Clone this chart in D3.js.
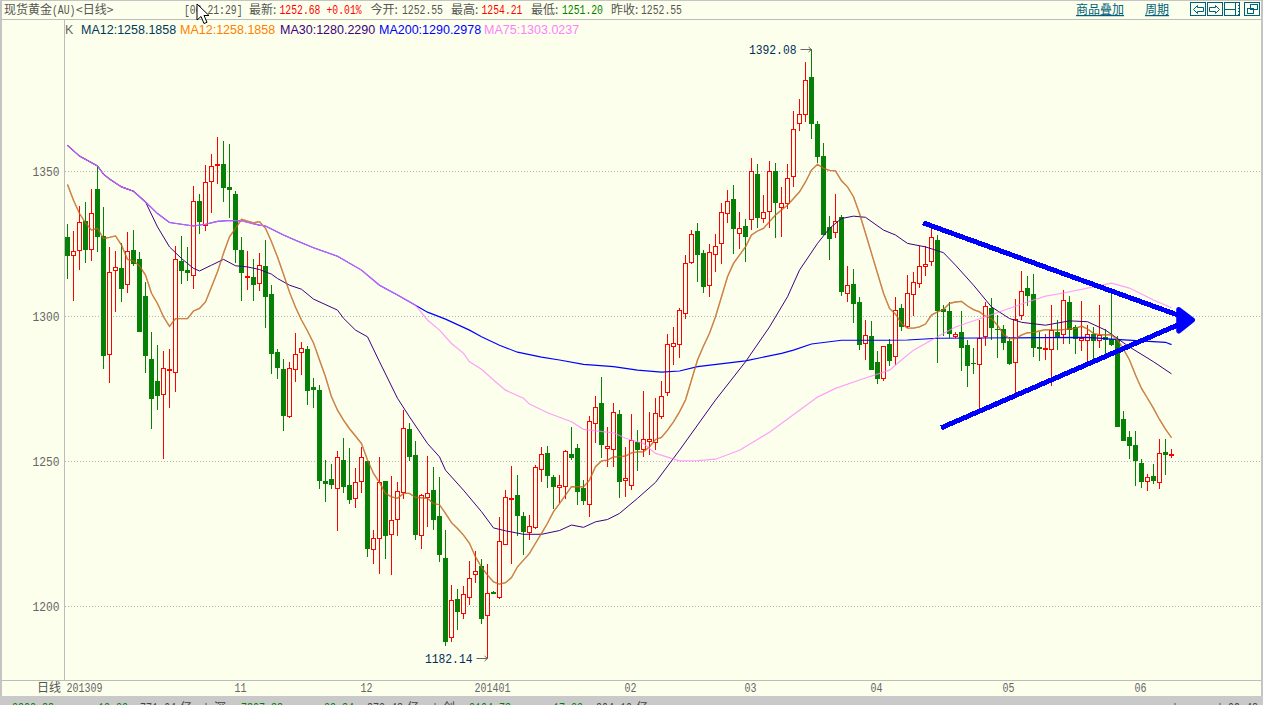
<!DOCTYPE html>
<html>
<head>
<meta charset="utf-8">
<title>现货黄金 日线</title>
<script src="https://cdnjs.cloudflare.com/ajax/libs/d3/7.8.5/d3.min.js"></script>
<style>
  html, body { margin: 0; padding: 0; background: #fcffec; overflow: hidden; }
  svg { display: block; }
</style>
</head>
<body>
<script>
// daily candles, one value per trading day
const opens = [
  1327.4,1321.3,1323.0,1332.9,1323.4,1344.0,1327.7,1287.2,1315.9,1316.7,
  1311.3,1322.9,1319.8,1307.1,1285.3,1277.7,1273.4,1281.4,1281.0,1319.1,
  1316.0,1314.4,1339.8,1331.4,1346.8,1352.1,1352.6,1344.6,1342.2,1322.9,
  1313.6,1313.6,1311.5,1317.4,1307.8,1287.7,1281.9,1265.6,1282.0,1287.8,
  1288.7,1275.6,1274.6,1243.2,1243.9,1240.7,1250.5,1241.9,1237.5,1243.3,
  1250.1,1220.0,1223.7,1243.2,1225.1,1230.2,1239.6,1261.2,1252.2,1224.8,
  1237.6,1240.1,1231.2,1216.7,1189.6,1202.5,1197.8,1203.3,1211.3,1213.9,
  1197.1,1205.0,1203.4,1221.7,1237.0,1238.4,1231.2,1225.6,1227.3,1247.5,
  1252.9,1244.7,1241.2,1241.7,1252.6,1254.7,1240.9,1235.5,1263.4,1270.2,
  1254.7,1254.4,1266.4,1243.7,1242.0,1256.7,1254.4,1257.1,1256.8,1265.6,
  1273.8,1289.9,1290.4,1301.3,1318.9,1329.4,1321.9,1310.9,1321.6,1325.4,
  1335.8,1340.5,1328.9,1331.2,1333.7,1349.3,1334.0,1336.4,1350.1,1337.9,
  1339.2,1348.5,1366.6,1369.7,1382.5,1366.3,1355.3,1330.8,1329.2,1334.3,
  1308.2,1311.2,1305.0,1290.9,1293.2,1284.3,1278.9,1290.5,1286.5,1302.9,
  1296.8,1307.7,1311.6,1317.5,1319.2,1326.4,1302.6,1301.9,1293.4,1294.6,
  1290.1,1283.9,1283.7,1293.4,1302.9,1295.7,1295.7,1291.5,1284.4,1300.4,
  1309.8,1307.8,1289.5,1288.8,1288.9,1294.7,1293.8,1305.0,1296.4,1291.9,
  1292.0,1294.0,1291.8,1292.8,1292.3,1291.9,1264.7,1258.5,1255.7,1249.5,
  1243.4,1245.0,1243.1,1253.3,1252.55
];
const closes = [
  1320.9,1322.5,1332.5,1322.9,1335.6,1327.4,1286.4,1315.2,1316.9,1309.5,
  1322.5,1318.1,1294.6,1286.4,1271.5,1272.6,1282.1,1281.9,1320.0,1315.7,
  1315.0,1340.0,1332.6,1346.3,1351.8,1352.5,1344.3,1343.6,1322.9,1315.0,
  1314.0,1310.9,1317.7,1306.7,1287.1,1282.2,1265.6,1282.4,1286.9,1289.0,
  1274.3,1274.6,1243.2,1242.2,1241.9,1251.7,1241.2,1236.7,1243.1,1251.4,
  1219.8,1223.5,1243.1,1224.3,1229.7,1239.7,1261.4,1251.5,1224.6,1238.3,
  1239.3,1229.8,1217.7,1187.7,1202.4,1198.1,1204.2,1210.0,1212.4,1195.6,
  1204.8,1204.3,1222.5,1237.6,1237.3,1231.2,1225.7,1227.6,1248.0,1252.5,
  1245.0,1241.2,1241.8,1253.5,1251.2,1239.5,1236.4,1263.9,1268.7,1255.7,
  1255.3,1267.0,1242.9,1244.3,1257.3,1254.0,1257.6,1257.8,1266.6,1272.5,
  1290.4,1290.7,1302.1,1318.3,1328.3,1321.2,1310.1,1322.4,1324.2,1335.9,
  1340.0,1330.1,1330.4,1327.4,1350.0,1333.9,1336.2,1350.0,1339.1,1339.0,
  1347.9,1364.5,1369.7,1381.4,1366.3,1355.0,1328.1,1326.7,1333.1,1308.4,
  1310.7,1304.3,1290.1,1293.5,1281.5,1278.4,1289.7,1284.6,1302.4,1296.4,
  1308.0,1311.8,1317.3,1318.1,1327.3,1301.9,1301.5,1293.9,1293.9,1289.1,
  1282.9,1283.7,1292.7,1303.5,1296.0,1295.3,1290.8,1283.6,1299.3,1308.7,
  1307.1,1289.2,1288.8,1289.2,1295.4,1292.8,1305.6,1295.4,1292.3,1292.7,
  1293.9,1291.6,1293.5,1291.9,1290.2,1261.9,1257.1,1255.4,1250.2,1242.9,
  1244.6,1243.3,1252.8,1252.3,1252.68
];
const highs = [
  1331.9,1329.5,1338.1,1339.5,1343.8,1351.9,1337.7,1324.0,1322.6,1325.3,
  1329.1,1329.8,1322.2,1311.9,1294.6,1290.2,1288.1,1288.8,1324.2,1327.7,
  1324.0,1345.0,1342.2,1352.2,1356.0,1361.9,1360.5,1359.5,1343.3,1327.4,
  1322.6,1319.8,1321.9,1326.4,1310.9,1288.7,1285.3,1284.3,1294.3,1291.2,
  1289.8,1278.7,1276.3,1250.5,1249.1,1253.6,1258.1,1254.6,1247.7,1255.0,
  1250.1,1226.3,1251.5,1243.2,1245.0,1242.9,1267.7,1263.2,1257.0,1238.7,
  1251.9,1248.1,1244.6,1226.3,1207.4,1206.0,1207.0,1215.6,1219.1,1216.3,
  1214.6,1205.3,1230.9,1240.2,1248.4,1245.3,1232.6,1231.6,1248.8,1255.0,
  1255.3,1245.3,1245.3,1254.0,1261.9,1256.0,1243.6,1265.7,1272.6,1279.1,
  1261.9,1270.2,1267.8,1255.0,1266.4,1260.9,1274.3,1267.1,1271.9,1277.8,
  1293.9,1296.3,1302.9,1321.2,1329.8,1332.2,1322.9,1325.0,1328.4,1339.1,
  1343.6,1345.3,1336.0,1333.6,1354.6,1352.5,1341.9,1353.6,1352.9,1344.6,
  1352.5,1370.8,1375.0,1387.7,1392.08,1367.4,1359.8,1334.6,1342.2,1335.0,
  1317.4,1316.3,1306.7,1298.7,1298.4,1288.1,1289.8,1292.2,1306.7,1304.2,
  1314.3,1315.3,1324.3,1324.3,1330.5,1328.1,1303.9,1305.0,1294.6,1301.9,
  1291.9,1289.1,1298.8,1305.0,1306.4,1300.5,1297.0,1292.9,1306.2,1315.7,
  1314.0,1314.7,1294.7,1294.0,1304.0,1298.8,1309.2,1307.1,1297.1,1305.4,
  1297.1,1296.4,1304.0,1295.7,1308.1,1293.3,1267.4,1260.5,1260.5,1250.9,
  1245.7,1249.2,1257.8,1257.8,1254.21
];
const lows = [
  1312.9,1305.3,1316.0,1318.4,1319.1,1322.2,1281.9,1277.1,1301.5,1305.0,
  1308.1,1317.4,1294.6,1280.5,1261.2,1267.7,1250.9,1268.4,1274.0,1311.2,
  1312.2,1309.5,1328.4,1329.5,1335.7,1345.7,1339.5,1334.0,1318.4,1305.3,
  1309.1,1305.3,1308.8,1296.0,1280.2,1278.4,1260.5,1265.0,1277.4,1279.8,
  1269.4,1268.4,1240.5,1236.0,1240.5,1226.0,1239.1,1235.3,1233.9,1239.1,
  1217.0,1214.6,1211.2,1216.3,1210.8,1224.3,1237.0,1250.1,1222.9,1219.8,
  1227.4,1226.3,1215.3,1186.3,1187.7,1191.9,1195.6,1200.5,1208.1,1193.9,
  1182.14,1204.3,1202.6,1221.6,1214.7,1224.3,1217.8,1222.9,1226.7,1242.9,
  1240.9,1233.6,1235.7,1237.1,1250.5,1235.0,1235.0,1230.9,1256.4,1251.2,
  1248.1,1248.1,1237.4,1237.8,1240.2,1246.7,1251.6,1252.2,1254.0,1264.5,
  1272.5,1283.2,1285.6,1299.1,1318.1,1311.9,1308.1,1306.7,1315.3,1318.1,
  1332.3,1321.5,1323.2,1318.7,1329.8,1330.5,1332.2,1330.5,1327.0,1327.4,
  1337.0,1344.6,1363.9,1367.0,1361.2,1352.9,1328.1,1319.4,1327.0,1307.0,
  1305.0,1297.7,1288.4,1285.0,1281.5,1276.7,1277.7,1283.0,1283.3,1295.0,
  1295.9,1300.1,1309.8,1313.9,1317.4,1283.9,1293.3,1292.6,1292.6,1281.2,
  1275.7,1280.1,1267.7,1289.8,1291.9,1285.7,1288.4,1283.3,1273.3,1298.8,
  1303.6,1286.1,1284.7,1285.0,1276.1,1288.5,1290.5,1290.5,1287.1,1288.1,
  1284.7,1284.3,1289.2,1286.4,1289.8,1261.9,1257.1,1250.9,1241.6,1240.9,
  1239.8,1242.3,1240.5,1245.4,1251.20
];

// MA12 read at every candle
const ma12 = [
  1345.5,1340.1,1335.5,1332.3,1329.8,1330.4,1326.9,1327.3,1327.8,1324.6,
  1319.7,1319.2,1317.4,1314.3,1308.0,1304.5,1299.9,1296.6,1299.3,1299.3,
  1299.3,1301.9,1302.8,1305.0,1310.2,1315.4,1321.8,1327.5,1330.4,1333.5,
  1332.9,1332.3,1332.7,1330.4,1325.8,1320.5,1314.6,1308.4,1303.2,1298.8,
  1295.0,1290.9,1285.0,1279.2,1272.3,1267.7,1264.3,1261.3,1258.8,1256.2,
  1250.5,1245.9,1242.7,1239.0,1237.8,1237.3,1239.0,1239.0,1237.6,1237.5,
  1237.3,1235.5,1235.1,1232.1,1228.9,1226.9,1224.6,1221.8,1217.1,1213.6,
  1210.8,1208.5,1207.7,1208.2,1210.0,1213.7,1216.0,1218.3,1221.8,1225.2,
  1228.7,1232.7,1235.5,1238.4,1241.3,1241.3,1241.3,1243.6,1248.2,1250.2,
  1250.5,1251.6,1251.6,1251.9,1253.0,1253.3,1253.3,1255.1,1257.6,1258.3,
  1260.8,1263.7,1267.1,1271.2,1278.1,1285.0,1289.8,1294.2,1299.9,1306.8,
  1313.7,1318.3,1321.2,1324.0,1328.1,1329.5,1330.4,1332.7,1335.0,1336.7,
  1338.4,1340.7,1343.0,1346.4,1350.5,1352.5,1351.1,1350.4,1350.2,1346.8,
  1344.7,1341.3,1335.5,1328.7,1321.8,1314.9,1308.0,1302.8,1300.8,1297.6,
  1296.0,1296.0,1296.4,1297.4,1300.5,1301.6,1302.4,1304.5,1305.0,1305.2,
  1303.6,1302.4,1301.6,1300.1,1299.3,1297.0,1293.9,1292.4,1292.4,1293.6,
  1294.4,1294.5,1295.0,1295.5,1295.4,1295.3,1295.5,1295.7,1295.9,1296.7,
  1295.7,1294.2,1293.7,1293.7,1293.7,1291.9,1288.7,1285.0,1279.8,1275.2,
  1271.8,1268.3,1264.5,1261.2,1258.19
];

// the slower averages are smooth, read at the candles where they bend
const ma75Idx = [0,2,5,6,7,9,11,13,15,17,19,21,23,25,27,29,32,33,36,38,41,45,49,52,55,58,
  60,62,64,66,67,69,71,73,76,77,80,84,86,91,93,96,98,102,105,108,112,117,122,125,128,132,
  137,139,141,145,148,153,159,163,166,170,174,177,181,184];
const ma75Vals = [1359.0,1355.3,1351.9,1349.1,1347.4,1344.7,1343.2,1339.5,1335.5,1332.4,1331.8,1331.2,
  1331.8,1332.8,1333.1,1333.0,1331.5,1331.2,1328.1,1326.3,1323.7,1320.8,1316.0,1310.8,1307.4,1303.9,
  1298.8,1295.3,1290.7,1287.3,1284.4,1281.8,1278.1,1274.6,1271.8,1269.8,1266.8,1263.7,1261.1,1259.9,
  1258.0,1256.2,1252.8,1250.2,1250.3,1250.8,1253.9,1260.1,1267.7,1272.2,1275.2,1278.1,1281.5,1285.0,
  1288.4,1293.0,1296.4,1299.9,1304.3,1307.0,1308.1,1309.8,1311.5,1309.8,1305.7,1303.02];

// MA30 and MA200 run on top of MA75 at the start of the window
const ma30Idx = ma75Idx.slice(0, 8).concat([15,17,19,21,22,24,26,28,30,32,34,35,37,39,41,45,46,48,50,52,55,57,60,62,
  63,66,69,71,73,76,79,82,84,86,88,90,92,95,98,102,108,113,117,120,122,125,127,129,131,133,136,138,
  140,143,146,148,151,154,157,159,163,167,170,173,177,181,184]);
const ma30Vals = ma75Vals.slice(0, 8).concat([1330.9,1324.0,1320.0,1316.6,1315.7,1317.7,1319.7,1317.5,1317.1,1316.2,
  1314.6,1313.1,1310.8,1309.4,1306.0,1302.2,1299.4,1295.3,1293.0,1284.4,1271.8,1265.4,1256.2,1251.6,
  1247.0,1240.1,1232.7,1227.1,1226.1,1224.9,1224.9,1226.2,1228.1,1227.3,1229.2,1230.0,1232.1,1237.3,
  1242.8,1253.9,1271.2,1284.4,1296.4,1306.8,1316.0,1325.2,1330.4,1333.8,1334.6,1334.2,1329.8,1328.1,
  1325.2,1324.0,1322.0,1317.7,1310.8,1303.3,1299.3,1298.0,1297.0,1298.5,1298.2,1295.3,1289.5,1284.4,1280.23]);

const ma200Idx = ma75Idx.slice(0, 26).concat([60,63,67,69,72,75,79,82,86,91,95,99,102,105,113,119,121,124,129,136,
  140,145,162,170,174,183,184]);
const ma200Vals = ma75Vals.slice(0, 26).concat([1301.5,1299.1,1295.3,1293.0,1290.1,1287.7,1286.0,1285.0,1283.5,1282.7,
  1281.5,1280.8,1281.2,1282.7,1284.7,1287.3,1288.4,1290.5,1291.8,1291.8,1291.9,1292.5,1292.7,1292.8,
  1292.2,1291.1,1290.30]);

const priceTicks = [1200, 1250, 1300, 1350];
const monthIdx = [0, 28, 49, 68, 93, 113, 134, 156, 178];
const monthLabels = ['201309', '11', '12', '201401', '02', '03', '04', '05', '06'];

// hand drawn triangle on top of the chart: [candle, price]
const trendUpper = [[142.6, 1332.3], [186.4, 1299.5]];
const trendLower = [[145.6, 1261.6], [186.4, 1298.3]];
const trendHead = [[185.2, 1302.4], [187.5, 1298.8], [185.2, 1295.0]];

const w = 1263;
const h = 705;
const bg = '#fcffec';
const up = '#ff0000';
const down = '#078007';
const mono = '"Liberation Mono", "DejaVu Sans Mono", monospace';
const cjk = '"Noto Sans CJK SC", sans-serif';

// squeeze mono digits to the narrow tall look of the terminal font
const narrow = (sel, perChar) => sel.each(function () {
  this.setAttribute('textLength', this.textContent.length * perChar);
  this.setAttribute('lengthAdjust', 'spacingAndGlyphs');
});

const svg = d3.select('body').append('svg').attr('width', w).attr('height', h);

svg.append('rect').attr('width', w).attr('height', h).attr('fill', bg);

const x = d3.scaleLinear().domain([0, 184]).range([67.5, 1171.5]);
const y = d3.scaleLinear().domain([1174.66, 1401.55]).range([680, 22]);

// grid + axes
const grid = svg.append('g');
grid.selectAll('line')
  .data(priceTicks)
  .enter()
  .append('line')
  .attr('x1', 65)
  .attr('x2', 1261)
  .attr('y1', d => Math.floor(y(d)) + 0.5)
  .attr('y2', d => Math.floor(y(d)) + 0.5)
  .style('stroke', '#b4b4b4')
  .style('stroke-dasharray', '1,2');

const yAxis = svg.append('g')
  .attr('transform', 'translate(64.5,0)')
  .call(d3.axisLeft(y).tickValues(priceTicks).tickFormat(d3.format('d')).tickSize(0).tickPadding(5));
yAxis.select('.domain').remove();
yAxis.selectAll('text')
  .style('font-family', mono)
  .style('font-size', '13px')
  .style('fill', '#666')
  .call(narrow, 6.75);

const xAxis = svg.append('g')
  .attr('transform', 'translate(0,680)')
  .call(d3.axisBottom(x).tickValues(monthIdx).tickFormat((d, i) => monthLabels[i]).tickSize(0));
xAxis.select('.domain').remove();
xAxis.selectAll('text')
  .attr('text-anchor', 'start')
  .attr('dx', -1.5)
  .attr('y', 3)
  .style('font-family', mono)
  .style('font-size', '12px')
  .style('fill', '#666')
  .call(narrow, 6);

// frame
const frame = [
  [64.5, 20, 64.5, 680], [2, 19.5, 1261, 19.5], [2, 680.5, 1261, 680.5]
];
svg.append('g').selectAll('line')
  .data(frame)
  .enter()
  .append('line')
  .attr('x1', d => d[0])
  .attr('y1', d => d[1])
  .attr('x2', d => d[2])
  .attr('y2', d => d[3])
  .style('stroke', '#bcbcbc');

svg.append('rect').attr('x', 0).attr('y', 0).attr('width', 2).attr('height', h).attr('fill', '#c4c4c4');
svg.append('rect').attr('x', 1261).attr('y', 0).attr('width', 2).attr('height', h).attr('fill', '#c4c4c4');
svg.append('rect').attr('x', 0).attr('y', 0).attr('width', w).attr('height', 1).attr('fill', '#c4c4c4');

// candles
const candles = opens.map((o, i) => ({ i, open: o, close: closes[i], high: highs[i], low: lows[i] }));
const isUp = d => d.close >= d.open;

const candle = svg.append('g').attr('shape-rendering', 'crispEdges').selectAll('g')
  .data(candles)
  .enter()
  .append('g');

candle.append('line')
  .attr('x1', d => x(d.i))
  .attr('x2', d => x(d.i))
  .attr('y1', d => Math.round(y(d.high)))
  .attr('y2', d => Math.round(y(d.low)))
  .style('stroke', d => isUp(d) ? up : down);

candle.append('rect')
  .attr('x', d => isUp(d) ? x(d.i) - 2 : x(d.i) - 2.5)
  .attr('width', d => isUp(d) ? 4 : 5)
  .attr('y', d => Math.round(y(Math.max(d.open, d.close))) + (isUp(d) ? 0.5 : 0))
  .attr('height', d => Math.max(1, Math.round(y(Math.min(d.open, d.close))) - Math.round(y(Math.max(d.open, d.close)))))
  .style('fill', d => isUp(d) ? bg : down)
  .style('stroke', d => isUp(d) ? up : 'none');

// moving averages
const line = d3.line().x(d => x(d[0])).y(d => y(d[1]));
const pairs = (idx, vals) => idx.map((d, i) => [d, vals[i]]);

const maLines = [
  { pts: pairs(ma200Idx, ma200Vals), color: '#0000ff', width: 1.15, alpha: 1 },
  { pts: pairs(ma30Idx, ma30Vals), color: '#400080', width: 1, alpha: 1 },
  { pts: ma12.map((d, i) => [i, d]), color: '#003a5a', width: 1.3, alpha: 0.45 },
  { pts: ma12.map((d, i) => [i, d]), color: '#ff6a00', width: 1.3, alpha: 0.65 },
  { pts: pairs(ma75Idx, ma75Vals), color: '#ff80ff', width: 1.2, alpha: 0.75 }
];

svg.append('g').selectAll('path')
  .data(maLines)
  .enter()
  .append('path')
  .attr('d', d => line(d.pts))
  .style('fill', 'none')
  .style('stroke', d => d.color)
  .style('stroke-width', d => d.width)
  .style('stroke-opacity', d => d.alpha);

// high / low flags
const hiIdx = d3.maxIndex(highs);
const loIdx = d3.minIndex(lows);
const flags = [
  { i: hiIdx, v: highs[hiIdx] },
  { i: loIdx, v: lows[loIdx] }
];
const flag = svg.append('g').selectAll('g')
  .data(flags)
  .enter()
  .append('g')
  .attr('transform', d => `translate(${x(d.i)},${Math.round(y(d.v)) + 0.5})`);
flag.append('text')
  .attr('x', -15)
  .attr('y', 4.5)
  .attr('text-anchor', 'end')
  .style('font-family', mono)
  .style('font-size', '13px')
  .style('fill', '#00305a')
  .text(d => d.v.toFixed(2))
  .call(narrow, 6.8);
flag.append('path')
  .attr('d', 'M-11,0H0M-3,-2.5L0,0L-3,2.5')
  .style('fill', 'none')
  .style('stroke', '#666');

// blue triangle
const blue = svg.append('g').attr('shape-rendering', 'crispEdges');
[trendUpper, trendLower].forEach(t => {
  blue.append('path')
    .attr('d', line(t))
    .style('fill', 'none')
    .style('stroke', '#0000ff')
    .style('stroke-width', 5);
});
svg.append('path')
  .attr('d', line(trendHead) + 'Z')
  .style('fill', '#0000ff')
  .style('stroke', '#0000ff')
  .style('stroke-width', 5)
  .style('stroke-linejoin', 'round');

// title bar
const headerY = 14;
const header = [
  { t: '现货黄金', x: 4, c: '#555', f: cjk, s: 12 },
  { t: '(AU)', x: 52, c: '#555', f: mono, s: 12, n: 1 },
  { t: '<日线>', x: 76, c: '#555', f: cjk, s: 12 },
  { t: '[06 21:29]', x: 184, c: '#555', f: mono, s: 12, n: 1 },
  { t: '最新:', x: 249, c: '#555', f: cjk, s: 12 },
  { t: '1252.68', x: 279.5, c: '#ff0000', f: mono, s: 12, n: 1 },
  { t: '+0.01%', x: 326.5, c: '#ff0000', f: mono, s: 12, n: 1 },
  { t: '今开:', x: 370.5, c: '#555', f: cjk, s: 12 },
  { t: '1252.55', x: 402, c: '#555', f: mono, s: 12, n: 1 },
  { t: '最高:', x: 451, c: '#555', f: cjk, s: 12 },
  { t: '1254.21', x: 481.5, c: '#ff0000', f: mono, s: 12, n: 1 },
  { t: '最低:', x: 531, c: '#555', f: cjk, s: 12 },
  { t: '1251.20', x: 562, c: '#008000', f: mono, s: 12, n: 1 },
  { t: '昨收:', x: 611, c: '#555', f: cjk, s: 12 },
  { t: '1252.55', x: 641, c: '#555', f: mono, s: 12, n: 1 },
  { t: '商品叠加', x: 1076, c: '#006080', f: cjk, s: 12, u: true },
  { t: '周期', x: 1145, c: '#006080', f: cjk, s: 12, u: true }
];
svg.append('g').selectAll('text')
  .data(header)
  .enter()
  .append('text')
  .attr('x', d => d.x)
  .attr('y', headerY)
  .style('font-family', d => d.f)
  .style('font-size', d => d.s + 'px')
  .style('fill', d => d.c)
  .style('text-decoration', d => d.u ? 'underline' : null)
  .text(d => d.t)
  .filter(d => d.n)
  .call(narrow, 5.85);

// legend line
const legend = [
  { t: 'K', x: 65, c: '#666' },
  { t: 'MA12:1258.1858', x: 81, c: '#003a5a' },
  { t: 'MA12:1258.1858', x: 180, c: '#ff8000' },
  { t: 'MA30:1280.2290', x: 280, c: '#400080' },
  { t: 'MA200:1290.2978', x: 379, c: '#0000ff' },
  { t: 'MA75:1303.0237', x: 484, c: '#ff80ff' }
];
svg.append('g').selectAll('text')
  .data(legend)
  .enter()
  .append('text')
  .attr('x', d => d.x)
  .attr('y', 34)
  .style('font-family', '"Liberation Sans", sans-serif')
  .style('font-size', '12.5px')
  .style('fill', d => d.c)
  .text(d => d.t);

// toolbar buttons top right
const buttons = svg.append('g')
  .attr('shape-rendering', 'crispEdges')
  .style('fill', 'none')
  .style('stroke', '#006080');
[1190, 1207, 1224, 1244].forEach(bx => {
  buttons.append('rect').attr('x', bx + 0.5).attr('y', 2.5).attr('width', 15).attr('height', 13);
});
buttons.append('path').attr('d', 'M1193.5,9.5L1197.5,5.5V7.5H1203.5V11.5H1197.5V13.5Z').attr('shape-rendering', 'auto');
buttons.append('path').attr('d', 'M1219.5,9.5L1215.5,5.5V7.5H1209.5V11.5H1215.5V13.5Z').attr('shape-rendering', 'auto');
buttons.append('path').attr('d', 'M1224.5,9.5H1235.5M1235.5,2.5V15.5M1238.5,4.5V5.5M1238.5,7.5V8.5M1238.5,10.5V11.5M1238.5,13.5V14.5');
buttons.append('path').attr('d', 'M1250.5,4.5H1257.5V9.5H1250.5ZM1247.5,8.5H1253.5V13.5H1247.5Z');

// status bar, cut off by the window edge like the screenshot
svg.append('rect').attr('x', 0).attr('y', 696).attr('width', w).attr('height', 9).attr('fill', '#c9c9c9');
const status = [
  { t: '2203.88', x: 12, c: '#008000' },
  { t: '-13.33', x: 92, c: '#008000' },
  { t: '771.64', x: 140, c: '#444' },
  { t: '亿', x: 180, c: '#444', f: cjk },
  { t: '|', x: 203, c: '#444' },
  { t: '深', x: 214, c: '#444', f: cjk },
  { t: '7807.88', x: 241, c: '#008000' },
  { t: '-32.84', x: 318, c: '#008000' },
  { t: '873.48', x: 367, c: '#444' },
  { t: '亿', x: 407, c: '#444', f: cjk },
  { t: '|', x: 432, c: '#444' },
  { t: '创', x: 443, c: '#444', f: cjk },
  { t: '2104.78', x: 469, c: '#008000' },
  { t: '-17.33', x: 547, c: '#008000' },
  { t: '204.10', x: 596, c: '#444' },
  { t: '亿', x: 636, c: '#444', f: cjk },
  { t: '|', x: 1172, c: '#444' },
  { t: '▼', x: 1200, c: '#333' },
  { t: '|', x: 1217, c: '#444' },
  { t: '09:48', x: 1228, c: '#444' }
];
svg.append('g').selectAll('text')
  .data(status)
  .enter()
  .append('text')
  .attr('x', d => d.x)
  .attr('y', 712)
  .style('font-family', d => d.f || mono)
  .style('font-size', '12px')
  .style('fill', d => d.c)
  .text(d => d.t)
  .filter(d => !d.f)
  .call(narrow, 6);

// 日线 label in the corner
svg.append('text')
  .attr('x', 37)
  .attr('y', 692)
  .style('font-family', cjk)
  .style('font-size', '12px')
  .style('fill', '#555')
  .text('日线');

// mouse pointer caught in the screenshot
svg.append('path')
  .attr('d', 'M197,4V20L201,16.5L204,23.5L207,22.3L204,15.5H209Z')
  .style('fill', '#fff')
  .style('stroke', '#000')
  .style('stroke-width', 1);
</script>
</body>
</html>
